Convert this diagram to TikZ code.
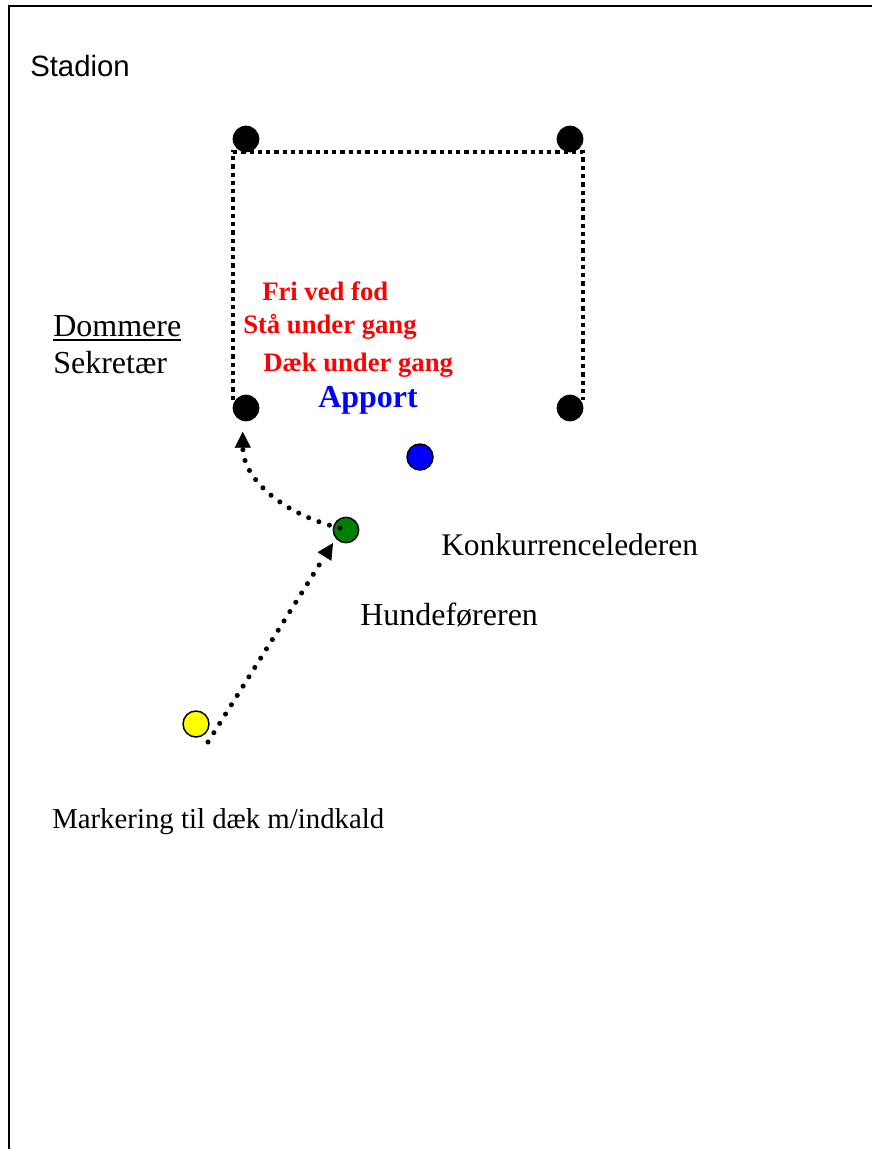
\documentclass[tikz,border=0pt]{standalone}
\usepackage{fontspec}
\setmainfont{Liberation Serif}
\newfontfamily\arialfont{Liberation Sans}
\usetikzlibrary{arrows.meta}
\definecolor{fieldred}{RGB}{255,0,0}
\definecolor{fieldblue}{RGB}{0,0,255}
\definecolor{fieldgreen}{RGB}{0,128,0}
\definecolor{fieldyellow}{RGB}{255,255,0}
\tikzset{
  lbl/.style={anchor=base west, inner sep=0pt, font=\fontsize{24pt}{28pt}\selectfont},
  redlbl/.style={anchor=base west, inner sep=0pt, text=fieldred, font=\fontsize{20pt}{24pt}\selectfont\bfseries},
  post/.style={circle, fill=black, inner sep=0pt, minimum size=20pt},
  person/.style={circle, draw=black, line width=1.1pt, inner sep=0pt, minimum size=19.5pt},
  ringline/.style={line width=3.6pt, dash pattern=on 3.2pt off 3pt},
  walk/.style={line width=3.8pt, line cap=round, dash pattern=on 0pt off 8.25pt,
    -{Triangle[length=12pt,width=12pt,line width=0.5pt]}},
  frame/.style={line width=1.5pt}
}
\begin{document}
\begin{tikzpicture}[x=0.75pt,y=-0.75pt]
\useasboundingbox (0,0) rectangle (872,1149);
% frame (top and left only)
\coordinate (fa) at (8.5,1149);
\coordinate (fb) at (8.5,5.7);
\coordinate (fc) at (872,5.7);
\draw[frame] (fa) -- (fb) -- (fc);

\node[anchor=base west, inner sep=0pt, font=\arialfont\fontsize{22pt}{26pt}\selectfont] (stadion) at (30,77) {Stadion};

% ring
\coordinate (r1) at (233,400);
\coordinate (r2) at (233,152);
\coordinate (r3) at (583,152);
\coordinate (r4) at (583,400);
\draw[ringline] (r1) -- (r2) -- (r3) -- (r4);

\node[post] (tl) at (246,139) {};
\node[post] (tr) at (570,139) {};
\node[post] (bl) at (246,408) {};
\node[post] (br) at (570,408) {};

% labels
\node[lbl] (dom) at (53,336) {Dommere};
\draw[line width=1.2pt] ([yshift=-3pt]dom.base west) -- ([yshift=-3pt]dom.base east);
\node[lbl] (sek) at (53,373) {Sekretær};

\node[redlbl] (fri) at (262,300) {Fri ved fod};
\node[redlbl] (sta) at (243,333) {Stå under gang};
\node[redlbl] (daek) at (263,371) {Dæk under gang};
\node[anchor=base west, inner sep=0pt, text=fieldblue, font=\fontsize{24pt}{28pt}\selectfont\bfseries] (apport) at (318,407) {Apport};

\node[lbl, font=\fontsize{23.6pt}{28pt}\selectfont] (konk) at (441,555) {Konkurrencelederen};
\node[lbl] (hund) at (360,625) {Hundeføreren};
\node[lbl, font=\fontsize{21.6pt}{26pt}\selectfont] (mark) at (52,828) {Markering til dæk m/indkald};

% persons
\node[person, fill=fieldblue] (blue) at (420,457) {};
\node[person, fill=fieldgreen, minimum size=19pt] (green) at (346,530) {};
\node[person, fill=fieldyellow] (yellow) at (196,724) {};

% walking paths
\coordinate (ystart) at (208,742);
\coordinate (gend) at (333,543);
\coordinate (gstart) at (340,528);
\coordinate (blend) at (242.7,431.7);
\draw[walk] (ystart) -- (gend);
\draw[walk] (gstart) .. controls (285,515) and (243,480) .. (blend);
\end{tikzpicture}
\end{document}
